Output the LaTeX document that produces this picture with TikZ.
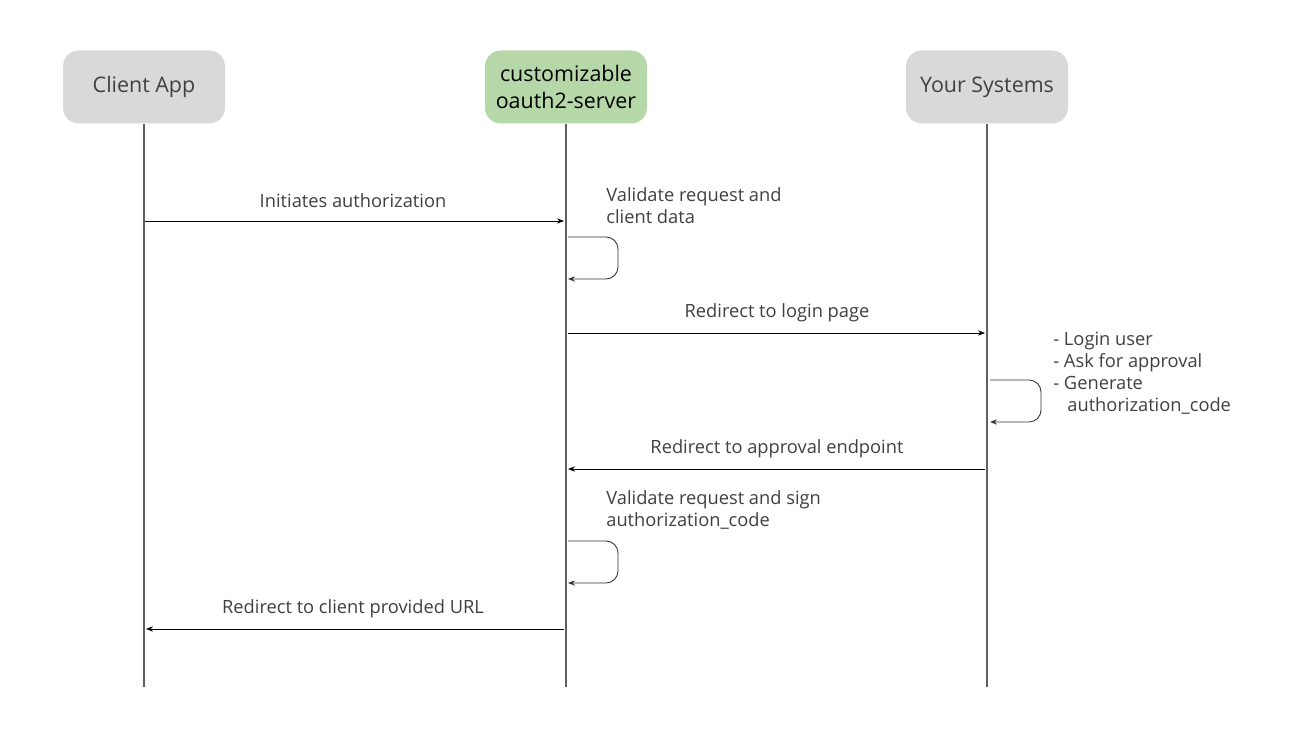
\documentclass[tikz,border=0pt]{standalone}
\usepackage{fontspec}
\setmainfont{Open Sans}
\usetikzlibrary{arrows.meta}

\definecolor{boxgray}{HTML}{D9D9D9}
\definecolor{boxgreen}{HTML}{B6D7A8}
\definecolor{txtgray}{HTML}{404040}
\definecolor{linegray}{HTML}{5F5F5F}

\tikzset{
  actor/.style={rectangle, rounded corners=9pt, minimum width=162*0.02cm, minimum height=73*0.02cm,
    align=center, font=\fontsize{12.2}{15.3}\selectfont},
  lifeline/.style={draw=linegray, line width=1.3pt},
  msg/.style={draw=black, line width=0.5pt, -{Stealth[length=4pt,width=3pt]}},
  selfmsg/.style={draw=black!80, line width=0.5pt, rounded corners=12*0.02cm, -{Stealth[length=4pt,width=3pt]}},
  lbl/.style={text=txtgray, font=\fontsize{10.4}{12.5}\selectfont, inner sep=0pt}
}

\begin{document}
\begin{tikzpicture}[x=0.02cm, y=-0.02cm]
  \useasboundingbox (0,0) rectangle (1315,729);

  % Les acteurs
  \node[actor, fill=boxgray, text=txtgray] (client) at (144,87) {\raisebox{-2pt}{Client App}};
  \node[actor, fill=boxgreen, text=black] (server) at (566,87) {customizable\\oauth2-server};
  \node[actor, fill=boxgray, text=txtgray] (systems) at (987,87) {\raisebox{-2pt}{Your Systems}};

  % Lignes de vie
  \coordinate (clientend) at (144,687);
  \coordinate (serverend) at (566,687);
  \coordinate (systemsend) at (987,687);
  \draw[lifeline] (client.south) -- (clientend);
  \draw[lifeline] (server.south) -- (serverend);
  \draw[lifeline] (systems.south) -- (systemsend);

  % Points sur les lignes de vie
  \coordinate (c1) at (145,221);
  \coordinate (s1) at (564,221);
  \coordinate (s2a) at (568,237);
  \coordinate (s2b) at (568,279);
  \coordinate (s3) at (568,333);
  \coordinate (y3) at (985,333);
  \coordinate (y4a) at (990,380);
  \coordinate (y4b) at (990,422);
  \coordinate (y5) at (985,469);
  \coordinate (s5) at (568,469);
  \coordinate (s6a) at (568,541);
  \coordinate (s6b) at (568,583);
  \coordinate (s7) at (564,629);
  \coordinate (c7) at (146,629);

  % Messages
  \draw[msg] (c1) -- (s1);
  \node[lbl] (m1) at (353,201) {Initiates authorization};

  \draw[selfmsg] (s2a) -- ++(50,0) -- ++(0,42) -- (s2b);
  \node[lbl, align=left, anchor=west] (m2) at (606,206) {Validate request and\\client data};

  \draw[msg] (s3) -- (y3);
  \node[lbl] (m3) at (777,313) {Redirect to login page};

  \draw[selfmsg] (y4a) -- ++(51,0) -- ++(0,42) -- (y4b);
  \node[lbl, align=left, anchor=west] (m4) at (1053,373) {- Login user\\- Ask for approval\\- Generate\\\hspace*{8pt}authorization\_code};

  \draw[msg] (y5) -- (s5);
  \node[lbl] (m5) at (777,449) {Redirect to approval endpoint};

  \draw[selfmsg] (s6a) -- ++(50,0) -- ++(0,42) -- (s6b);
  \node[lbl, align=left, anchor=west] (m6) at (606,510) {Validate request and sign\\authorization\_code};

  \draw[msg] (s7) -- (c7);
  \node[lbl] (m7) at (353,609) {Redirect to client provided URL};
\end{tikzpicture}
\end{document}
